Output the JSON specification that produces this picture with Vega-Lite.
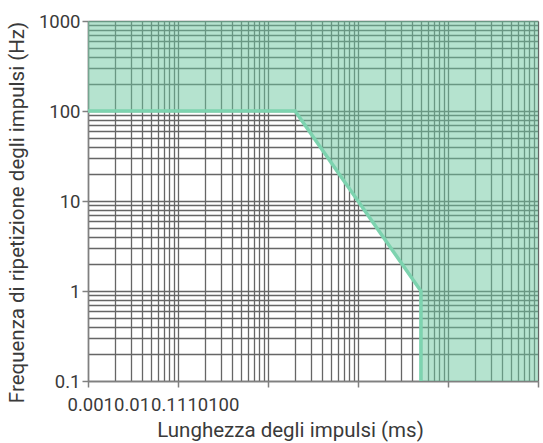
{
  "$schema": "https://vega.github.io/schema/vega-lite/v6.json",
  "width": 450,
  "height": 360,
  "autosize": {"type": "none"},
  "padding": {"left": 88, "top": 21, "right": 5, "bottom": 62},
  "background": "white",
  "config": {
    "view": {"stroke": null},
    "font": "Roboto",
    "axis": {
      "labelFont": "Roboto",
      "titleFont": "Roboto",
      "labelFontSize": 18.5,
      "titleFontSize": 20.5,
      "labelColor": "#3a3a3a",
      "titleColor": "#3a3a3a",
      "titleFontWeight": "normal",
      "gridColor": "#666666",
      "gridWidth": 1.3,
      "gridOpacity": 1,
      "domainColor": "#808080",
      "domainWidth": 1.5,
      "tickColor": "#808080",
      "tickWidth": 1.5,
      "tickSize": 6,
      "labelOverlap": false,
      "labelBound": false,
      "labelFlush": false
    }
  },
  "data": {
    "values": [
      {"ms": 0.001, "hz": 100, "top": 1000, "edge": true},
      {"ms": 0.2, "hz": 100, "top": 1000, "edge": true},
      {"ms": 5, "hz": 1, "top": 1000, "edge": true},
      {"ms": 5, "hz": 0.1, "top": 1000, "edge": true},
      {"ms": 100, "hz": 0.1, "top": 1000, "edge": false}
    ]
  },
  "encoding": {
    "x": {
      "field": "ms",
      "type": "quantitative",
      "scale": {"type": "log", "domain": [0.001, 100], "nice": false},
      "axis": {
        "title": "Lunghezza degli impulsi (ms)",
        "titleX": 202,
        "titleY": 55,
        "titleBaseline": "alphabetic",
        "titleAlign": "center",
        "format": "~g",
        "values": [0.001, 0.002, 0.003, 0.004, 0.005, 0.006, 0.007, 0.008, 0.009,
                   0.01, 0.02, 0.03, 0.04, 0.05, 0.06, 0.07, 0.08, 0.09,
                   0.1, 0.2, 0.3, 0.4, 0.5, 0.6, 0.7, 0.8, 0.9,
                   1, 2, 3, 4, 5, 6, 7, 8, 9,
                   10, 20, 30, 40, 50, 60, 70, 80, 90, 100],
        "labelExpr": "indexof([0.001, 0.01, 0.1, 1, 10, 100], datum.value) >= 0 ? datum.label : ''",
        "labelAlign": "left",
        "labelBaseline": "alphabetic",
        "labelPadding": 23,
        "labelOffset": {
          "condition": [
            {"test": "datum.value == 0.001", "value": -21},
            {"test": "datum.value == 0.01", "value": -64.5},
            {"test": "datum.value == 0.1", "value": -117.5},
            {"test": "datum.value == 1", "value": -181.5},
            {"test": "datum.value == 10", "value": -261.1}
          ],
          "value": -330.3
        },
        "tickOpacity": {
          "condition": {"test": "indexof([0.001, 0.01, 0.1, 1, 10, 100], datum.value) >= 0", "value": 1},
          "value": 0
        }
      }
    },
    "y": {
      "field": "hz",
      "type": "quantitative",
      "scale": {"type": "log", "domain": [0.1, 1000], "nice": false},
      "axis": {
        "title": "Frequenza di ripetizione degli impulsi (Hz)",
        "titleX": -71,
        "titleY": 191,
        "titleAlign": "center",
        "titleBaseline": "middle",
        "titleAngle": -90,
        "format": "~g",
        "values": [0.1, 0.2, 0.3, 0.4, 0.5, 0.6, 0.7, 0.8, 0.9,
                   1, 2, 3, 4, 5, 6, 7, 8, 9,
                   10, 20, 30, 40, 50, 60, 70, 80, 90,
                   100, 200, 300, 400, 500, 600, 700, 800, 900, 1000],
        "labelExpr": "indexof([0.1, 1, 10, 100, 1000], datum.value) >= 0 ? datum.label : ''",
        "labelPadding": 2,
        "labelBaseline": "middle",
        "tickOpacity": {
          "condition": {"test": "indexof([0.1, 1, 10, 100, 1000], datum.value) >= 0", "value": 1},
          "value": 0
        }
      }
    }
  },
  "layer": [
    {
      "mark": {"type": "area", "fill": "#6cc8a0", "fillOpacity": 0.5, "orient": "vertical"},
      "encoding": {"y2": {"field": "top"}}
    },
    {
      "transform": [{"filter": "datum.edge"}],
      "mark": {"type": "line", "color": "#7dd3af", "strokeWidth": 3.5}
    }
  ]
}
